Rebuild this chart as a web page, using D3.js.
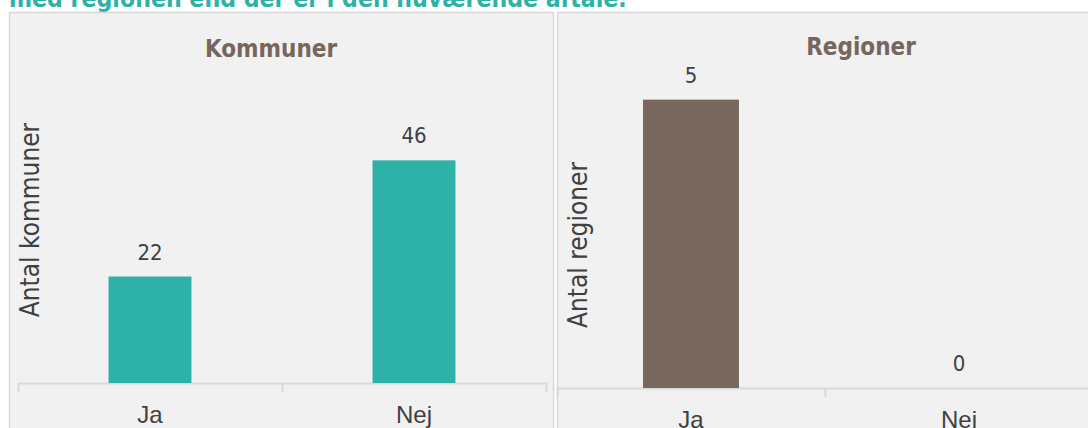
<!DOCTYPE html>
<html>
<head>
<meta charset="utf-8">
<script src="https://cdn.jsdelivr.net/npm/d3@7"></script>
<style>
  body { margin: 0; background: #fff; }
  svg { display: block; font-family: "DejaVu Sans Condensed", "DejaVu Sans", sans-serif; }
</style>
</head>
<body>
<div id="chart"></div>
<script>
const width = 1088;
const height = 428;

// data
const categories = ["Ja", "Nej"];
const kommunerValues = [22, 46];
const regionerValues = [5, 0];
const heading = "med regionen end der er i den nuværende aftale.";
const panelTitles = ["Kommuner", "Regioner"];
const yLabels = ["Antal kommuner", "Antal regioner"];
const yMax = [50, 6];

const teal = "#2EB1A6";
const brown = "#786860";
const textColor = "#404040";
const gridColor = "#d9d9d9";

const svg = d3
  .select("#chart")
  .append("svg")
  .attr("width", width)
  .attr("height", height);

// heading, cut off at the top edge
const head = svg
  .append("text")
  .attr("x", 9)
  .attr("y", 7)
  .attr("fill", teal)
  .attr("font-weight", "bold")
  .attr("font-size", 20)
  .text(heading);
const headLen = head.node().getComputedTextLength();
head.attr("font-size", 20 * 618 / headLen);

const panels = [
  {
    box: [9, 12, 553, 440],
    values: kommunerValues,
    color: teal,
    xRange: [18, 546],
    padding: 0.686,
    base: 383,
    top: 141,
    titleX: 271,
    titleY: 57,
    yLabelX: 39,
    yLabelY: 220,
  },
  {
    box: [557, 12, 1100, 440],
    values: regionerValues,
    color: brown,
    xRange: [557, 1093],
    padding: 0.642,
    base: 388,
    top: 42,
    titleX: 861,
    titleY: 55,
    yLabelX: 587,
    yLabelY: 245,
  },
];

panels.forEach((p, i) => {
  const g = svg.append("g");

  g.append("rect")
    .attr("x", p.box[0] + 0.5)
    .attr("y", p.box[1] + 0.5)
    .attr("width", p.box[2] - p.box[0])
    .attr("height", p.box[3] - p.box[1])
    .attr("fill", "#f1f1f1")
    .attr("stroke", gridColor)
    .attr("stroke-width", 1.5);

  const x = d3
    .scaleBand()
    .domain(categories)
    .range(p.xRange)
    .padding(p.padding)
    .paddingOuter(p.padding / 2);

  const y = d3
    .scaleLinear()
    .domain([0, yMax[i]])
    .range([p.base, p.top]);

  // category boundary ticks
  const edges = d3
    .scaleLinear()
    .domain([0, categories.length])
    .range(p.xRange);

  g.append("g")
    .attr("transform", `translate(0,${p.base})`)
    .call(
      d3
        .axisBottom(edges)
        .tickValues(d3.range(categories.length + 1))
        .tickFormat("")
        .tickSize(9)
        .tickSizeOuter(0)
    )
    .call((ax) => ax.selectAll("path, line").attr("stroke", gridColor).attr("stroke-width", 2));

  g.selectAll(".bar")
    .data(p.values)
    .join("rect")
    .attr("class", "bar")
    .attr("x", (d, j) => x(categories[j]))
    .attr("y", (d) => y(d))
    .attr("width", x.bandwidth())
    .attr("height", (d) => p.base - y(d))
    .attr("fill", p.color);

  // value labels
  g.selectAll(".val")
    .data(p.values)
    .join("text")
    .attr("class", "val")
    .attr("x", (d, j) => x(categories[j]) + x.bandwidth() / 2)
    .attr("y", (d) => y(d) - 17)
    .attr("text-anchor", "middle")
    .attr("font-size", 22)
    .attr("fill", textColor)
    .text((d) => d);

  // category labels
  g.append("g")
    .attr("transform", `translate(0,${p.base})`)
    .call(d3.axisBottom(x).tickSize(0).tickPadding(0))
    .call((ax) => ax.select(".domain").remove())
    .call((ax) =>
      ax
        .selectAll("text")
        .attr("dy", null)
        .attr("y", 40)
        .attr("font-size", 24)
        .attr("font-family", null)
        .attr("fill", textColor)
    );

  g.append("text")
    .attr("x", p.titleX)
    .attr("y", p.titleY)
    .attr("text-anchor", "middle")
    .attr("font-weight", "bold")
    .attr("font-size", 24)
    .attr("fill", "#76665E")
    .text(panelTitles[i]);

  g.append("text")
    .attr("transform", `translate(${p.yLabelX},${p.yLabelY}) rotate(-90)`)
    .attr("text-anchor", "middle")
    .attr("font-size", 26)
    .attr("fill", textColor)
    .text(yLabels[i]);
});
</script>
</body>
</html>
